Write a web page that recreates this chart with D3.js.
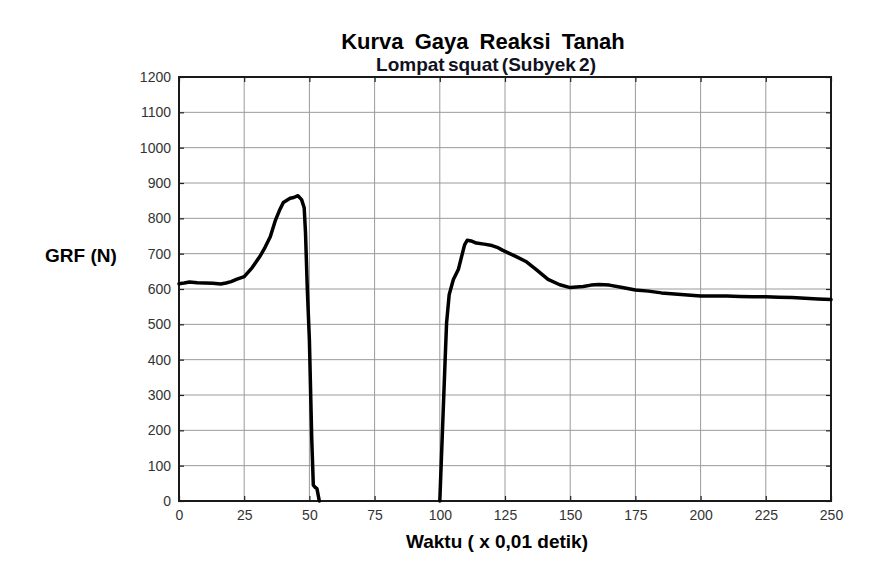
<!DOCTYPE html>
<html>
<head>
<meta charset="utf-8">
<script src="https://cdn.jsdelivr.net/npm/d3@7"></script>
<style>
  html, body { margin: 0; padding: 0; background: #fff; }
  svg { display: block; font-family: Arial, "Liberation Sans", sans-serif; }
</style>
</head>
<body>
<svg id="chart" width="891" height="583"></svg>
<script>
// ---- data ----
const titleText = "Kurva Gaya Reaksi Tanah";
const subtitleText = "Lompat squat (Subyek 2)";
const xLabel = "Waktu ( x 0,01 detik)";
const yLabel = "GRF (N)";
const xTicks = [0, 25, 50, 75, 100, 125, 150, 175, 200, 225, 250];
const yTicks = [0, 100, 200, 300, 400, 500, 600, 700, 800, 900, 1000, 1100, 1200];

// before take-off (time x 0.01 s, GRF in N)
const takeoffTime = [0, 2, 4, 7, 10, 13, 16, 18, 20, 22, 25, 28, 31, 33, 35, 37, 38.5, 40, 42.6, 44, 45.6, 47, 48, 48.5, 49.2, 50, 50.9, 51.5, 52.3, 52.9, 53.8];
const takeoffGRF  = [615, 617, 620, 618, 617, 616, 614, 617, 621, 627, 635, 660, 692, 718, 748, 795, 822, 845, 857, 859, 864, 853, 830, 760, 600, 455, 175, 45, 38, 35, 0];

// after landing
const landingTime = [100, 102, 102.6, 103.6, 105.2, 107.1, 108.4, 109.5, 110.5, 112, 114, 117, 120, 122, 124, 126, 129.5, 133, 137, 141.5, 146, 150, 155, 158, 161, 165, 170, 175, 180, 185, 190, 195, 200, 205, 210, 215, 220, 225, 230, 235, 240, 245, 250];
const landingGRF  = [0, 391, 504, 584, 627, 655, 693, 725, 738, 736, 730, 727, 723, 718, 710, 703, 691, 678, 655, 627, 612, 604, 607, 611, 613, 611, 604, 597, 594, 589, 586, 583, 580, 580, 580, 579, 578, 578, 577, 576, 574, 572, 570];

// ---- drawing ----
const svg = d3.select("#chart");
const pLeft = 179, pRight = 831, pTop = 77, pBottom = 501;

const x = d3.scaleLinear().domain([0, 250]).range([pLeft, pRight]);
const y = d3.scaleLinear().domain([0, 1200]).range([pBottom, pTop]);

// gridlines
const grid = svg.append("g");
grid.selectAll("line.gx").data(xTicks.slice(1, -1)).join("line")
  .attr("x1", d => x(d)).attr("x2", d => x(d))
  .attr("y1", pTop).attr("y2", pBottom)
  .attr("stroke", "#9a9a9a").attr("stroke-width", 1);
grid.selectAll("line.gy").data(yTicks.slice(1, -1)).join("line")
  .attr("x1", pLeft).attr("x2", pRight)
  .attr("y1", d => y(d)).attr("y2", d => y(d))
  .attr("stroke", "#9a9a9a").attr("stroke-width", 1);

// axes with inward ticks
function styleAxis(g) {
  g.select(".domain").remove();
  g.selectAll(".tick line").attr("stroke", "#222").attr("stroke-width", 1.2);
  g.selectAll(".tick text").attr("fill", "#333").style("font-size", "14px")
   .style("font-family", "Arial, 'Liberation Sans', sans-serif");
}
svg.append("g").attr("transform", `translate(${pLeft},0)`)
  .call(d3.axisLeft(y).tickValues(yTicks).tickSize(-5).tickPadding(8).tickFormat(d3.format("d")))
  .call(styleAxis);
svg.append("g").attr("transform", `translate(${pRight},0)`)
  .call(d3.axisRight(y).tickValues(yTicks).tickSize(-5).tickFormat(""))
  .call(styleAxis);
svg.append("g").attr("transform", `translate(0,${pBottom})`)
  .call(d3.axisBottom(x).tickValues(xTicks).tickSize(-5).tickPadding(9).tickFormat(d3.format("d")))
  .call(styleAxis);
svg.append("g").attr("transform", `translate(0,${pTop})`)
  .call(d3.axisTop(x).tickValues(xTicks).tickSize(-5).tickFormat(""))
  .call(styleAxis);

// frame
svg.append("rect")
  .attr("x", pLeft).attr("y", pTop)
  .attr("width", pRight - pLeft).attr("height", pBottom - pTop)
  .attr("fill", "none").attr("stroke", "#1a1a1a").attr("stroke-width", 2);

// data lines
const seg1 = takeoffTime.map((t, i) => [t, takeoffGRF[i]]);
const seg2 = landingTime.map((t, i) => [t, landingGRF[i]]);
const lineL = d3.line().x(d => x(d[0])).y(d => y(d[1]));
[seg1, seg2].forEach(seg => {
  svg.append("path").datum(seg)
    .attr("d", lineL)
    .attr("fill", "none").attr("stroke", "#000")
    .attr("stroke-width", 3.5)
    .attr("stroke-linejoin", "round").attr("stroke-linecap", "round");
});

// titles
svg.append("text").attr("x", 483).attr("y", 49).attr("text-anchor", "middle")
  .style("font-size", "22px").style("font-weight", "bold").style("word-spacing", "5px")
  .attr("fill", "#000").text(titleText);
svg.append("text").attr("x", 486).attr("y", 71).attr("text-anchor", "middle")
  .style("font-size", "19px").style("font-weight", "bold").style("word-spacing", "-2px")
  .attr("fill", "#111122").text(subtitleText);

// axis labels
svg.append("text").attr("x", 45).attr("y", 262)
  .style("font-size", "19px").style("font-weight", "bold")
  .attr("fill", "#000").text(yLabel);
svg.append("text").attr("x", 406).attr("y", 548)
  .style("font-size", "19px").style("font-weight", "bold")
  .attr("fill", "#000").text(xLabel);
</script>
</body>
</html>
